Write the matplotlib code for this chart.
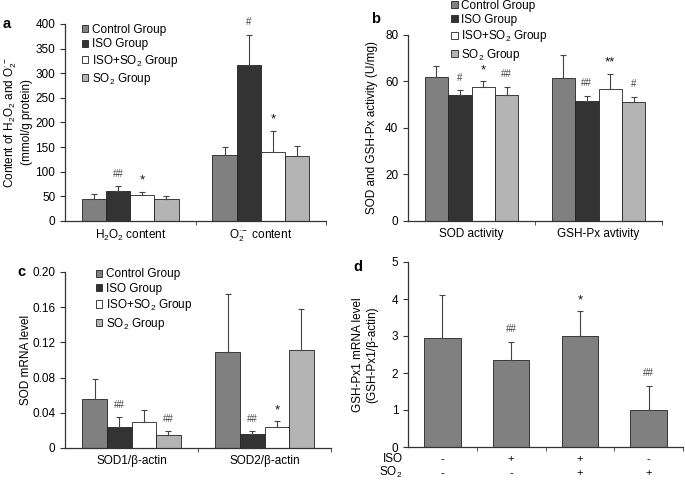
import numpy as np
import matplotlib.pyplot as plt

plt.rcParams["font.family"] = ["Liberation Sans", "DejaVu Sans"]
plt.rcParams["mathtext.fontset"] = "custom"
plt.rcParams["mathtext.rm"] = "Liberation Sans"
plt.rcParams["mathtext.it"] = "Liberation Sans"
plt.rcParams["mathtext.default"] = "regular"

groups = ["Control Group", "ISO Group", "ISO+SO$_2$ Group", "SO$_2$ Group"]
colors = ["#808080", "#333333", "#ffffff", "#b4b4b4"]

# panel a
a_cats = ["H$_2$O$_2$ content", "O$_2^{\\cdot -}$ content"]
a_vals = [[44, 133], [61.5, 316], [52.8, 141], [45.3, 131]]
a_errs = [[10, 18], [9.5, 62], [6.7, 42], [6, 21]]
a_marks = [["", ""], ["##", "#"], ["*", "*"], ["", ""]]

# panel b
b_cats = ["SOD activity", "GSH-Px avtivity"]
b_vals = [[62.1, 61.7], [54.0, 51.7], [57.7, 56.8], [54.4, 51.1]]
b_errs = [[4.7, 9.7], [2.2, 2.1], [2.4, 6.6], [3.4, 2.4]]
b_marks = [["", ""], ["#", "##"], ["*", "**"], ["##", "#"]]

# panel c
c_cats = ["SOD1/\u03b2-actin", "SOD2/\u03b2-actin"]
c_vals = [[0.056, 0.109], [0.024, 0.0155], [0.029, 0.0238], [0.0143, 0.111]]
c_errs = [[0.022, 0.066], [0.011, 0.0035], [0.014, 0.0068], [0.0047, 0.047]]
c_marks = [["", ""], ["##", "##"], ["", "*"], ["##", ""]]

# panel d
d_vals = [2.95, 2.35, 3.01, 0.99]
d_errs = [1.16, 0.49, 0.66, 0.67]
d_marks = ["", "##", "*", "##"]
d_iso = ["-", "+", "+", "-"]
d_so2 = ["-", "-", "+", "+"]

W, H = 685, 483
fig = plt.figure(figsize=(6.85, 4.83), dpi=100)


def px_axes(l, t, r, b):
    return fig.add_axes([l / W, 1 - b / H, (r - l) / W, (b - t) / H])


def style(ax, ncat):
    for s in ["top", "right"]:
        ax.spines[s].set_visible(False)
    for s in ["left", "bottom"]:
        ax.spines[s].set_linewidth(0.9)
        ax.spines[s].set_color("#333333")
    ax.set_xlim(-0.5, ncat - 0.5)
    ax.set_xticks(np.arange(ncat))
    ax.set_xticks(np.arange(ncat) + 0.5, minor=True)
    ax.tick_params(axis="x", which="major", length=0, labelsize=8.5, pad=5)
    ax.tick_params(axis="x", which="minor", length=3, direction="out", color="#333333")
    ax.tick_params(axis="y", length=3.5, direction="out", labelsize=8.5, color="#333333")


def mark(ax, txt, x, y):
    big = "*" in txt
    ax.annotate(txt, (x, y), xytext=(0, 8 if big else 9), textcoords="offset points",
                ha="center", va="center", fontsize=9.5 if big else 7,
                color="#111111" if big else "#444444")


def grouped(ax, cats, vals, errs, marks, legend_anchor):
    x = np.arange(len(cats))
    w = 0.185
    for i, g in enumerate(groups):
        xs = x + (i - 1.5) * w
        ax.bar(xs, vals[i], w, color=colors[i], edgecolor="#222222", linewidth=0.6,
               yerr=[np.zeros(len(cats)), errs[i]], ecolor="#444444",
               error_kw=dict(elinewidth=0.8, capsize=2.5, capthick=0.8), label=g)
        for j in range(len(cats)):
            if marks[i][j]:
                mark(ax, marks[i][j], xs[j], vals[i][j] + errs[i][j])
    style(ax, len(cats))
    ax.set_xticklabels(cats)
    ax.legend(loc="upper left", bbox_to_anchor=legend_anchor, frameon=False,
              fontsize=8.5, handlelength=0.55, handleheight=0.55, handletextpad=0.3,
              labelspacing=0.2, borderaxespad=0, borderpad=0)


ax_a = px_axes(65, 24, 326, 221)
grouped(ax_a, a_cats, a_vals, a_errs, a_marks, (0.065, 1.0))
ax_a.set_ylim(0, 400)
ax_a.set_yticks(np.arange(0, 401, 50))
ax_a.set_ylabel("Content of H$_2$O$_2$ and O$_2^{\\cdot -}$\n(mmol/g protein)", fontsize=8.5,
                labelpad=2)

ax_b = px_axes(408, 35, 662, 221)
grouped(ax_b, b_cats, b_vals, b_errs, b_marks, (0.17, 1.19))
ax_b.set_ylim(0, 80)
ax_b.set_yticks(np.arange(0, 81, 20))
ax_b.set_ylabel("SOD and GSH-Px activity (U/mg)", fontsize=8.5, labelpad=5)

ax_c = px_axes(65, 272, 331, 448)
grouped(ax_c, c_cats, c_vals, c_errs, c_marks, (0.115, 1.02))
ax_c.set_ylim(0, 0.20)
ax_c.set_yticks([0, 0.04, 0.08, 0.12, 0.16, 0.20])
ax_c.set_yticklabels(["0", "0.04", "0.08", "0.12", "0.16", "0.20"])
ax_c.set_ylabel("SOD mRNA level", fontsize=8.5, labelpad=0)

ax_d = px_axes(408, 262, 683, 447)
xd = np.arange(len(d_vals))
ax_d.bar(xd, d_vals, 0.53, color="#808080", edgecolor="#222222", linewidth=0.6,
         yerr=[np.zeros(len(d_vals)), d_errs], ecolor="#444444",
         error_kw=dict(elinewidth=0.8, capsize=2.5, capthick=0.8))
for j, m in enumerate(d_marks):
    if m:
        mark(ax_d, m, xd[j], d_vals[j] + d_errs[j])
style(ax_d, len(d_vals))
ax_d.set_xticklabels([])
ax_d.set_ylim(0, 5)
ax_d.set_yticks(np.arange(0, 6, 1))
ax_d.set_ylabel("GSH-Px1 mRNA level\n(GSH-Px1/\u03b2-actin)", fontsize=8.5, labelpad=10)
trans = ax_d.get_xaxis_transform()
for j in range(len(d_vals)):
    ax_d.text(xd[j], -0.065, d_iso[j], transform=trans, ha="center", va="center", fontsize=8)
    ax_d.text(xd[j], -0.14, d_so2[j], transform=trans, ha="center", va="center", fontsize=8)
ax_d.text(-0.02, -0.065, "ISO", transform=ax_d.transAxes, ha="right", va="center", fontsize=8.5)
ax_d.text(-0.02, -0.14, "SO$_2$", transform=ax_d.transAxes, ha="right", va="center", fontsize=8.5)

for lbl, (x, y) in zip("abcd", [(7, 24), (376, 19), (21, 272), (358, 267)]):
    fig.text(x / W, 1 - y / H, lbl, fontsize=10.5, fontweight="bold", ha="center", va="center")

fig.savefig("out.png", dpi=100, facecolor="white")
